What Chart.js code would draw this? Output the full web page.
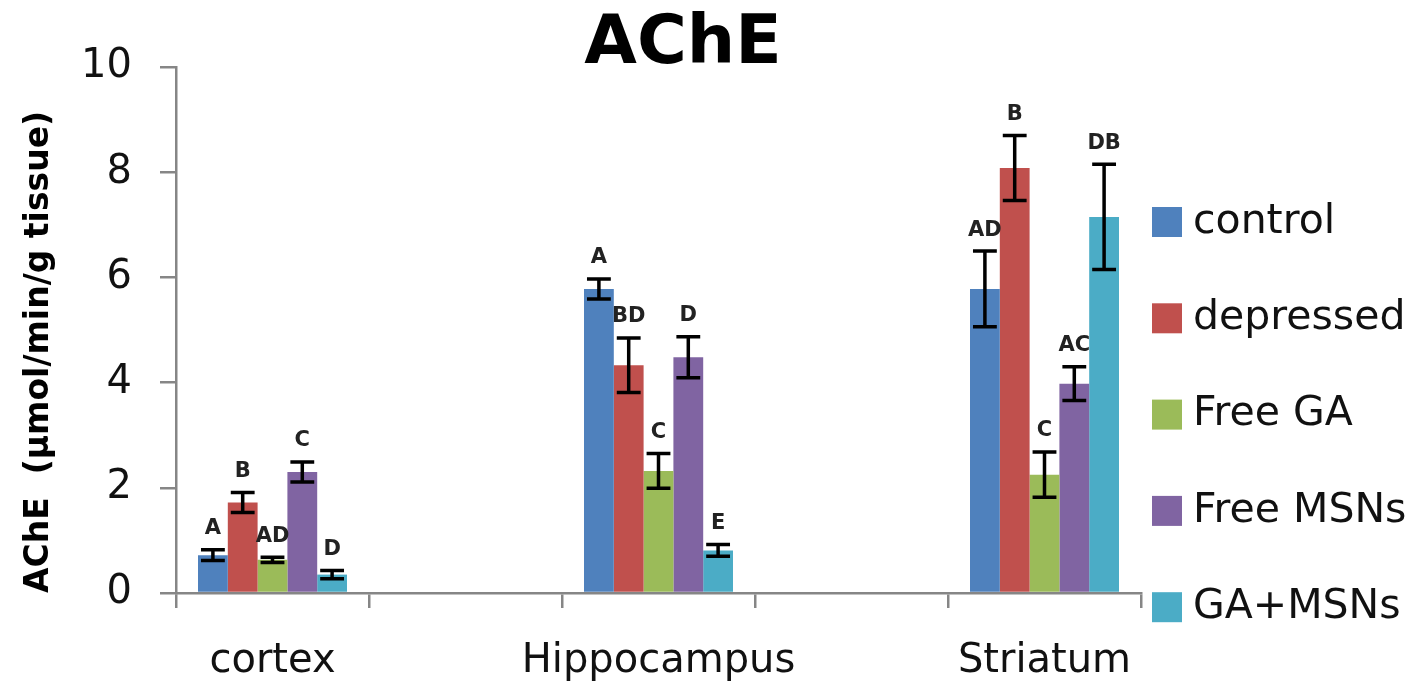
<!DOCTYPE html>
<html>
<head>
<meta charset="utf-8">
<script src="https://cdn.jsdelivr.net/npm/chart.js@4.4.1/dist/chart.umd.min.js"></script>
<style>
  html, body { margin: 0; padding: 0; background: #fff; }
</style>
</head>
<body>
<canvas id="ache" width="1416" height="683"></canvas>
<script>
// regions on the x axis (the blank ones are the empty slots between groups)
const regions = ['cortex', '', 'Hippocampus', '', 'Striatum'];
const groups = ['control', 'depressed', 'Free GA', 'Free MSNs', 'GA+MSNs'];
const colors = ['#4F81BD', '#C0504D', '#9BBB59', '#8064A2', '#4BACC6'];

// means
const control   = [0.72, null, 5.78, null, 5.78];
const depressed = [1.72, null, 4.33, null, 8.08];
const freeGA    = [0.63, null, 2.32, null, 2.25];
const freeMSNs  = [2.30, null, 4.48, null, 3.98];
const gaMSNs    = [0.35, null, 0.81, null, 7.15];

// error bars (+/-)
const controlErr   = [0.10, null, 0.19, null, 0.72];
const depressedErr = [0.19, null, 0.52, null, 0.62];
const freeGAErr    = [0.05, null, 0.33, null, 0.43];
const freeMSNsErr  = [0.19, null, 0.39, null, 0.32];
const gaMSNsErr    = [0.08, null, 0.11, null, 1.00];

// significance letters
const controlSig   = ['A', '', 'A', '', 'AD'];
const depressedSig = ['B', '', 'BD', '', 'B'];
const freeGASig    = ['AD', '', 'C', '', 'C'];
const freeMSNsSig  = ['C', '', 'D', '', 'AC'];
const gaMSNsSig    = ['D', '', 'E', '', 'DB'];

const yTicks = [0, 2, 4, 6, 8, 10];

const values = [control, depressed, freeGA, freeMSNs, gaMSNs];
const errors = [controlErr, depressedErr, freeGAErr, freeMSNsErr, gaMSNsErr];
const letters = [controlSig, depressedSig, freeGASig, freeMSNsSig, gaMSNsSig];

const FONT = "'DejaVu Sans', sans-serif";
const AXIS_GREY = '#868686';

const extras = {
  id: 'extras',
  afterDatasetsDraw(chart) {
    const ctx = chart.ctx;
    const y = chart.scales.y;
    ctx.save();
    chart.data.datasets.forEach((ds, i) => {
      const meta = chart.getDatasetMeta(i);
      meta.data.forEach((bar, j) => {
        const v = ds.data[j];
        if (v == null) return;
        const e = errors[i][j];
        const yTop = y.getPixelForValue(v + e);
        const yBot = y.getPixelForValue(v - e);
        const cap = bar.width * 0.4;
        ctx.strokeStyle = '#000';
        ctx.lineWidth = 3.5;
        ctx.beginPath();
        ctx.moveTo(bar.x, yTop); ctx.lineTo(bar.x, yBot);
        ctx.moveTo(bar.x - cap, yTop); ctx.lineTo(bar.x + cap, yTop);
        ctx.moveTo(bar.x - cap, yBot); ctx.lineTo(bar.x + cap, yBot);
        ctx.stroke();

        ctx.fillStyle = '#222';
        ctx.font = 'bold 21px ' + FONT;
        ctx.textAlign = 'center';
        ctx.textBaseline = 'middle';
        ctx.fillText(letters[i][j], bar.x, yTop - 21);
      });
    });
    ctx.restore();
  },
  afterDraw(chart) {
    const ctx = chart.ctx;
    ctx.save();
    // title
    ctx.fillStyle = '#000';
    ctx.font = 'bold 68px ' + FONT;
    ctx.textAlign = 'center';
    ctx.textBaseline = 'alphabetic';
    ctx.fillText('AChE', 683, 63);

    // y axis title
    ctx.save();
    ctx.translate(48, 352);
    ctx.rotate(-Math.PI / 2);
    ctx.font = 'bold 33px ' + FONT;
    ctx.textBaseline = 'alphabetic';
    ctx.fillText('AChE  (\u00b5mol/min/g tissue)', 0, 0);
    ctx.restore();

    // legend
    ctx.font = '41px ' + FONT;
    ctx.textAlign = 'left';
    ctx.textBaseline = 'middle';
    chart.data.datasets.forEach((ds, i) => {
      const cy = 222 + i * 96.3;
      ctx.fillStyle = ds.backgroundColor;
      ctx.fillRect(1152, cy - 15, 30, 30);
      ctx.fillStyle = '#111';
      ctx.fillText(ds.label, 1193, cy);
    });
    ctx.restore();
  }
};

new Chart(document.getElementById('ache').getContext('2d'), {
  type: 'bar',
  data: {
    labels: regions,
    datasets: groups.map((g, i) => ({
      label: g,
      data: values[i],
      backgroundColor: colors[i],
      borderWidth: 0,
      categoryPercentage: 0.772,
      barPercentage: 1.0
    }))
  },
  options: {
    responsive: false,
    animation: false,
    layout: { padding: { top: 67, right: 275, bottom: 0, left: 0 } },
    plugins: {
      legend: { display: false },
      title: { display: false },
      tooltip: { enabled: false }
    },
    scales: {
      x: {
        afterFit: (s) => { s.height = 90; },
        grid: { drawOnChartArea: false, offset: true, tickLength: 15, color: AXIS_GREY, lineWidth: 2.5 },
        border: { color: AXIS_GREY, width: 2.5 },
        ticks: {
          color: '#111', padding: 30, autoSkip: false, maxRotation: 0, minRotation: 0,
          font: { family: FONT, size: 40 }
        }
      },
      y: {
        min: 0,
        max: 10,
        afterFit: (s) => { s.width = 176; },
        afterBuildTicks: (s) => { s.ticks = yTicks.map(v => ({ value: v })); },
        grid: { drawOnChartArea: false, tickLength: 16, color: AXIS_GREY, lineWidth: 2.5 },
        border: { color: AXIS_GREY, width: 2.5 },
        ticks: { color: '#111', padding: 28, font: { family: FONT, size: 40 } }
      }
    }
  },
  plugins: [extras]
});
</script>
</body>
</html>
